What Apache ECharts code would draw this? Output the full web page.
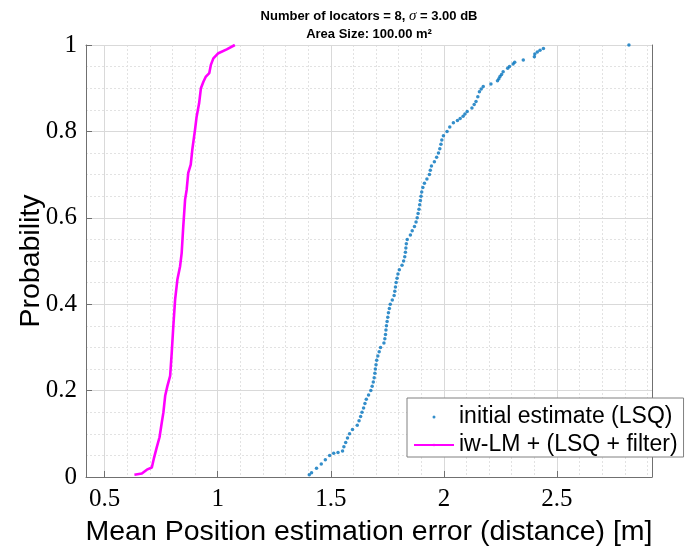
<!DOCTYPE html>
<html>
<head>
<meta charset="utf-8">
<script src="https://cdn.jsdelivr.net/npm/echarts@6/dist/echarts.min.js"></script>
<style>
html,body{margin:0;padding:0;background:#fff;}
#c{width:696px;height:552px;}
</style>
</head>
<body>
<div id="c"></div>
<script>
// ---- data ----
const seriesNames = ['initial estimate (LSQ)', 'iw-LM + (LSQ + filter)'];

// initial estimate (LSQ): empirical CDF points [error, probability]
const lsqPoints = [
  [1.405,0.005],[1.415,0.01],[1.437,0.02],[1.458,0.03],[1.476,0.04],[1.495,0.05],
  [1.513,0.055],[1.532,0.057],[1.552,0.06],[1.558,0.07],[1.566,0.08],[1.574,0.09],
  [1.583,0.10],[1.596,0.11],[1.617,0.12],[1.625,0.13],[1.632,0.14],[1.638,0.15],
  [1.645,0.16],[1.651,0.17],[1.657,0.18],[1.667,0.19],[1.677,0.20],[1.683,0.21],
  [1.688,0.22],[1.692,0.23],[1.695,0.24],[1.697,0.25],[1.700,0.26],[1.703,0.27],
  [1.708,0.28],[1.714,0.29],[1.720,0.30],[1.735,0.31],[1.739,0.32],[1.742,0.33],
  [1.744,0.34],[1.746,0.35],[1.749,0.36],[1.752,0.37],[1.755,0.38],[1.759,0.39],
  [1.763,0.40],[1.772,0.41],[1.780,0.42],[1.783,0.43],[1.786,0.44],[1.789,0.45],
  [1.793,0.46],[1.797,0.47],[1.803,0.48],[1.815,0.49],[1.822,0.50],[1.827,0.51],
  [1.830,0.52],[1.832,0.53],[1.834,0.54],[1.838,0.55],[1.852,0.56],[1.860,0.57],
  [1.870,0.58],[1.877,0.59],[1.882,0.60],[1.886,0.61],[1.890,0.62],[1.893,0.63],
  [1.896,0.64],[1.899,0.65],[1.902,0.66],[1.907,0.67],[1.914,0.68],[1.925,0.69],
  [1.936,0.70],[1.940,0.71],[1.945,0.72],[1.958,0.73],[1.968,0.74],[1.976,0.75],
  [1.982,0.76],[1.987,0.77],[1.991,0.78],[1.998,0.79],[2.014,0.80],[2.026,0.81],
  [2.042,0.82],[2.060,0.825],[2.072,0.83],[2.085,0.835],[2.093,0.84],[2.103,0.846],
  [2.124,0.854],[2.134,0.862],[2.142,0.869],[2.150,0.88],[2.157,0.892],[2.165,0.898],
  [2.174,0.904],[2.208,0.91],[2.237,0.917],[2.243,0.922],[2.248,0.927],[2.255,0.932],
  [2.262,0.938],[2.282,0.946],[2.290,0.95],[2.306,0.956],[2.313,0.96],[2.351,0.965],
  [2.400,0.973],[2.402,0.979],[2.413,0.984],[2.425,0.988],[2.440,0.992],[2.818,1.0]
];

// iw-LM + (LSQ + filter): CDF curve
const lmX = [0.632,0.665,0.687,0.709,0.719,0.731,0.743,0.753,0.760,0.768,0.778,0.790,
  0.797,0.804,0.812,0.822,0.834,0.841,0.848,0.856,0.863,0.870,0.881,0.888,0.900,0.907,
  0.918,0.926,0.937,0.948,0.963,0.970,0.981,1.003,1.040,1.076];
const lmY = [0.005,0.008,0.017,0.022,0.045,0.069,0.092,0.126,0.149,0.188,0.211,0.234,
  0.288,0.349,0.411,0.457,0.488,0.519,0.580,0.642,0.665,0.704,0.723,0.758,0.804,0.834,
  0.865,0.900,0.915,0.927,0.935,0.954,0.969,0.981,0.990,1.0];

const xMajorTicks = [0.5, 1, 1.5, 2, 2.5];
const xMinorTicks = [0.5,0.6,0.7,0.8,0.9,1.0,1.1,1.2,1.3,1.4,1.5,1.6,1.7,1.8,1.9,2.0,2.1,2.2,2.3,2.4,2.5,2.6,2.7,2.8,2.9];
const xRange = [0.418, 2.92];
const yRange = [0, 1];
const yStep = 0.2;

const titleLine1a = 'Number of locators = 8, ';
const titleSigma = 'σ';
const titleLine1b = ' = 3.00 dB';
const titleLine2 = 'Area Size: 100.00 m²';
const xName = 'Mean Position estimation error (distance) [m]';
const yName = 'Probability';

// ---- chart ----
const lmData = lmX.map((x, i) => [x, lmY[i]]);
const frameColor = '#707070';
const sans = '"Liberation Sans", Arial, Helvetica, sans-serif';
const serif = '"Liberation Serif", "Times New Roman", serif';

const chart = echarts.init(document.getElementById('c'), null, {renderer: 'canvas'});
const option = {
  backgroundColor: '#ffffff',
  animation: false,
  title: {
    left: 369,
    textAlign: 'center',
    top: 7,
    padding: 0,
    text: '{a|' + titleLine1a + '}{s|' + titleSigma + '}{a|' + titleLine1b + '}\n{a|' + titleLine2 + '}',
    textStyle: {
      rich: {
        a: {fontFamily: sans, fontWeight: 'bold', fontSize: 13, color: '#000', lineHeight: 18},
        s: {fontFamily: serif, fontStyle: 'italic', fontWeight: 'normal', fontSize: 15, color: '#000', lineHeight: 18}
      }
    }
  },
  grid: {left: 86, right: 44, top: 45, bottom: 74, containLabel: false},
  legend: {
    orient: 'vertical',
    left: 407,
    top: 398,
    padding: [7, 6, 0, 6],
    itemWidth: 40,
    itemHeight: 3,
    itemGap: 4,
    borderColor: '#808080',
    borderWidth: 1,
    backgroundColor: '#ffffff',
    textStyle: {fontFamily: sans, fontSize: 23, color: '#000', lineHeight: 24},
    data: seriesNames
  },
  xAxis: [
    {
      type: 'value', position: 'bottom', min: xRange[0], max: xRange[1],
      name: xName, nameLocation: 'middle', nameGap: 41, nameMoveOverlap: false,
      nameTextStyle: {fontFamily: sans, fontSize: 28.5, color: '#000'},
      axisLine: {show: true, onZero: false, lineStyle: {color: frameColor, width: 1}},
      axisTick: {show: true, inside: true, length: 6, customValues: xMajorTicks, lineStyle: {color: frameColor}},
      axisLabel: {show: true, customValues: xMajorTicks, margin: 10, fontFamily: serif, fontSize: 25, color: '#000'},
      splitLine: {show: true, lineStyle: {color: '#d9d9d9', width: 1, type: 'solid'}},
      z: 3
    },
    {
      type: 'value', position: 'top', min: xRange[0], max: xRange[1],
      axisLine: {show: true, onZero: false, lineStyle: {color: frameColor, width: 1}},
      axisTick: {show: true, inside: true, length: 6, customValues: xMajorTicks, lineStyle: {color: frameColor}},
      axisLabel: {show: false},
      splitLine: {show: false}
    },
    {
      type: 'value', position: 'bottom', min: xRange[0], max: xRange[1],
      axisLine: {show: false},
      axisTick: {show: false, customValues: xMinorTicks},
      axisLabel: {show: false},
      splitLine: {show: true, lineStyle: {color: '#e2e2e2', width: 1, type: [2, 2]}},
      z: 1
    }
  ],
  yAxis: [
    {
      type: 'value', position: 'left', min: yRange[0], max: yRange[1], interval: yStep,
      name: yName, nameLocation: 'middle', nameGap: 40, nameMoveOverlap: false,
      nameTextStyle: {fontFamily: sans, fontSize: 28.5, color: '#000'},
      axisLine: {show: true, onZero: false, lineStyle: {color: frameColor, width: 1}},
      axisTick: {show: true, inside: true, length: 6, lineStyle: {color: frameColor}},
      axisLabel: {show: true, margin: 9, fontFamily: serif, fontSize: 25, color: '#000'},
      splitLine: {show: true, lineStyle: {color: '#d9d9d9', width: 1, type: 'solid'}},
      minorTick: {show: false, splitNumber: 4},
      minorSplitLine: {show: true, lineStyle: {color: '#e2e2e2', width: 1, type: [2, 2]}},
      z: 3
    },
    {
      type: 'value', position: 'right', min: yRange[0], max: yRange[1], interval: yStep,
      axisLine: {show: true, onZero: false, lineStyle: {color: frameColor, width: 1}},
      axisTick: {show: true, inside: true, length: 6, lineStyle: {color: frameColor}},
      axisLabel: {show: false},
      splitLine: {show: false}
    }
  ],
  series: [
    {
      name: seriesNames[0],
      type: 'scatter',
      xAxisIndex: 0, yAxisIndex: 0,
      data: lsqPoints,
      symbol: 'circle',
      symbolSize: 3.5,
      itemStyle: {color: '#0072BD'},
      z: 5
    },
    {
      name: seriesNames[1],
      type: 'line',
      xAxisIndex: 0, yAxisIndex: 0,
      data: lmData,
      symbol: 'none',
      showSymbol: false,
      lineStyle: {color: '#FF00FF', width: 2.6},
      itemStyle: {color: '#FF00FF'},
      z: 5
    }
  ]
};
chart.setOption(option);
</script>
</body>
</html>
